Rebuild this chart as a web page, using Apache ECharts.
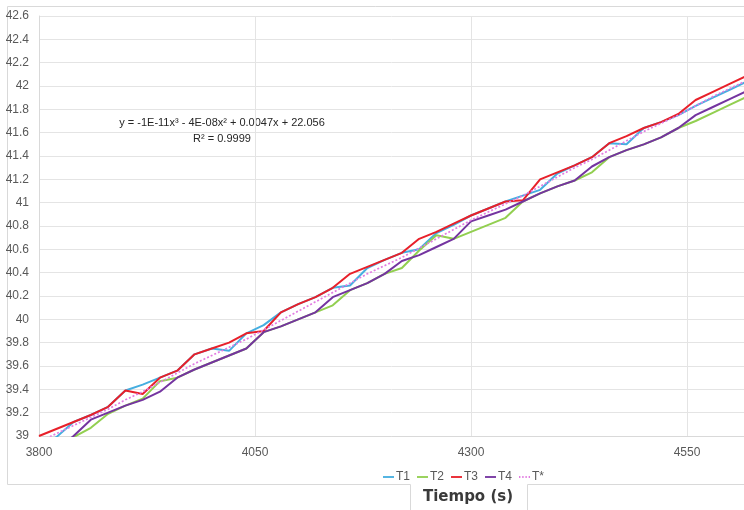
<!DOCTYPE html>
<html>
<head>
<meta charset="utf-8">
<script src="https://cdn.jsdelivr.net/npm/echarts@6/dist/echarts.min.js"></script>
<style>html,body{margin:0;padding:0;background:#fff;}#c{width:744px;height:510px;}</style>
</head>
<body>
<div id="c"></div>
<script>
var times = [3800,3820,3840,3860,3880,3900,3920,3940,3960,3980,4000,4020,4040,4060,4080,4100,4120,4140,4160,4180,4200,4220,4240,4260,4280,4300,4320,4340,4360,4380,4400,4420,4440,4460,4480,4500,4520,4540,4560,4580,4600,4620];
var T1 = [38.90,38.99,39.12,39.18,39.25,39.39,39.44,39.50,39.56,39.70,39.75,39.73,39.88,39.95,40.06,40.13,40.19,40.27,40.29,40.44,40.51,40.57,40.60,40.74,40.81,40.89,40.95,41.01,41.06,41.11,41.25,41.32,41.39,41.51,41.50,41.64,41.69,41.75,41.83,41.90,41.97,42.04];
var T2 = [38.75,38.88,38.99,39.07,39.19,39.26,39.32,39.47,39.50,39.57,39.63,39.69,39.75,39.89,39.94,40.00,40.06,40.12,40.25,40.31,40.39,40.44,40.59,40.72,40.69,40.75,40.81,40.87,41.01,41.08,41.14,41.19,41.26,41.39,41.45,41.50,41.56,41.64,41.70,41.77,41.84,41.91];
var T3 = [39.00,39.06,39.12,39.18,39.25,39.39,39.36,39.50,39.56,39.70,39.75,39.80,39.88,39.90,40.06,40.13,40.19,40.27,40.39,40.45,40.51,40.57,40.69,40.75,40.82,40.89,40.95,41.01,41.02,41.20,41.26,41.32,41.39,41.51,41.57,41.64,41.69,41.76,41.88,41.95,42.02,42.09];
var T4 = [38.80,38.88,39.00,39.14,39.20,39.26,39.31,39.38,39.50,39.57,39.63,39.69,39.75,39.89,39.94,40.00,40.06,40.19,40.25,40.31,40.39,40.50,40.55,40.62,40.69,40.84,40.89,40.94,41.01,41.08,41.14,41.19,41.31,41.39,41.45,41.50,41.56,41.64,41.75,41.82,41.89,41.96];
var Tstar = [38.95,39.02,39.09,39.16,39.23,39.31,39.38,39.46,39.54,39.62,39.69,39.76,39.83,39.91,39.99,40.07,40.15,40.23,40.31,40.39,40.46,40.53,40.61,40.69,40.77,40.85,40.92,40.99,41.06,41.14,41.22,41.30,41.37,41.45,41.53,41.61,41.68,41.75,41.83,41.91,41.98,42.05];
var seriesNames = ['T1','T2','T3','T4','T*'];
var seriesColors = ['#45aee0','#92cf50','#e8202a','#7434a0','#e27ce2'];
var equationText = 'y = -1E-11x³ - 4E-08x² + 0.0047x + 22.056';
var r2Text = 'R² = 0.9999';
var xTitle = 'Tiempo (s)';

function pairs(vals){ return times.map(function(t,i){ return [t, vals[i]]; }); }
var allVals = [T1,T2,T3,T4,Tstar];

var chart = echarts.init(document.getElementById('c'), null, {renderer:'canvas'});
var border = '#d9d9d9';
var solidIcon = 'path://M0,0h12v2h-12z';
var dotIcon = 'path://M0,0h1.5v2h-1.5z M3.5,0h1.5v2h-1.5z M7,0h1.5v2h-1.5z M10.5,0h1.5v2h-1.5z';
var series = allVals.map(function(v,i){
  return {
    name: seriesNames[i], type:'line', data: pairs(v), symbol:'none', clip:true,
    lineStyle:{ color: seriesColors[i], width: i===4 ? 1.7 : 2, type: i===4 ? [2,2] : 'solid' },
    itemStyle:{ color: seriesColors[i] },
    z: 2 + i, animation:false
  };
});
chart.setOption({
  animation:false,
  grid:{ left:39, right:0, top:16, bottom:74, containLabel:false },
  xAxis:{ type:'value', min:3800, max:4616, interval:250,
    axisLine:{ show:true, lineStyle:{ color:border } }, axisTick:{ show:false },
    axisLabel:{ color:'#595959', fontSize:12, fontFamily:'Liberation Sans, Arial, sans-serif', margin:11, showMaxLabel:false,
      formatter:function(v){ return String(v); } },
    splitLine:{ show:true, lineStyle:{ color:'#e4e4e4', width:1 } } },
  yAxis:{ type:'value', min:39, max:42.6, interval:0.2,
    axisLine:{ show:true, lineStyle:{ color:border } }, axisTick:{ show:false },
    axisLabel:{ color:'#595959', fontSize:12, fontFamily:'Liberation Sans, Arial, sans-serif', margin:10 },
    splitLine:{ show:true, lineStyle:{ color:'#e4e4e4', width:1 } } },
  legend:{ data: seriesNames.map(function(n,i){ return { name:n, icon: i===4 ? dotIcon : solidIcon, itemStyle:{ color: seriesColors[i], borderWidth:0 } }; }),
    left:378, top:466, itemWidth:11, itemHeight:2, itemGap:7,
    textStyle:{ color:'#595959', fontSize:12, fontFamily:'Liberation Sans, Arial, sans-serif', padding:[0,0,0,-3] } },
  series: series,
  graphic:[
    { type:'polyline', silent:true, shape:{ points:[[744,6.5],[7.5,6.5],[7.5,484.5],[410.5,484.5],[410.5,510]] }, style:{ stroke:border, fill:null, lineWidth:1 } },
    { type:'polyline', silent:true, shape:{ points:[[527.5,510],[527.5,484.5],[744,484.5]] }, style:{ stroke:border, fill:null, lineWidth:1 } },
    { type:'text', silent:true, x:222, y:123, style:{ text:equationText, align:'center', verticalAlign:'middle', fill:'#262626', font:'11px "Liberation Sans", Arial, sans-serif' } },
    { type:'text', silent:true, x:222, y:139, style:{ text:r2Text, align:'center', verticalAlign:'middle', fill:'#262626', font:'11px "Liberation Sans", Arial, sans-serif' } },
    { type:'text', silent:true, x:468, y:497, style:{ text:xTitle, align:'center', verticalAlign:'middle', fill:'#3a3a3a', font:'bold 15px "DejaVu Sans", Verdana, sans-serif' } }
  ]
});
</script>
</body>
</html>
